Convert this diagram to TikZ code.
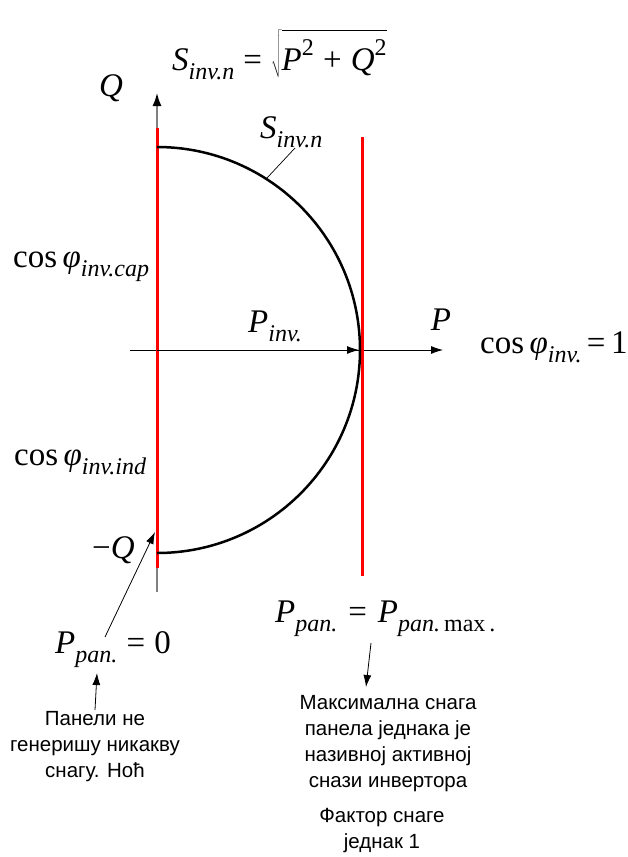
\documentclass[tikz,border=0pt]{standalone}
\usepackage{fontspec}
\setmainfont{Liberation Serif}
\newfontfamily\cyr{Liberation Sans}
\usetikzlibrary{arrows.meta}
\newcommand{\mysub}[1]{\raisebox{-0.28em}{\fontsize{24}{24}\selectfont #1}}
\newcommand{\mysup}[1]{\raisebox{0.45em}{\fontsize{24}{24}\selectfont #1}}
\begin{document}
\begin{tikzpicture}[x=1pt,y=-1pt,
  lbl/.style={inner sep=0pt, font=\fontsize{33}{38}\selectfont},
  note/.style={inner sep=0pt, align=center, font=\cyr\fontsize{20.5}{25.7}\selectfont},
  redline/.style={draw=red, line width=3pt},
  thinarrow/.style={-{Latex[length=12pt,width=8pt]}, line width=0.8pt},
  leader/.style={line width=0.7pt}]
\useasboundingbox (0,0) rectangle (627,857);
% axes
\coordinate (O) at (157,350);
\coordinate (Qtop) at (157,93);
\coordinate (Qbot) at (157,592);
\coordinate (Pstart) at (130,350);
\coordinate (Pend) at (443,350);
\coordinate (Arcright) at (359,350);
\draw[draw=gray, line width=1.5pt, -{Latex[color=black,length=13pt,width=9pt]}] (Qbot) -- (Qtop);
\draw[thinarrow] (Pstart) -- (Pend);
% red lines
\coordinate (L1) at (157,128);
\coordinate (L2) at (157,568);
\coordinate (R1) at (362,137);
\coordinate (R2) at (362,576);
\draw[redline] (L1) -- (L2);
\draw[redline] (R1) -- (R2);
% semicircle
\coordinate (Atop) at (157,147);
\draw[line width=2.5pt] (Atop) arc[start angle=-90, end angle=90, radius=203];
% P_inv vector
\draw[thinarrow] (O) -- (Arcright);
% labels
\node[lbl, anchor=base west] (form) at (172,70) {\textit{S}\mysub{\textit{inv.n}}\;=\;$\sqrt{\rule{0pt}{1.12em}\mbox{\textit{P}\mysup{2}\;+\;\textit{Q}\mysup{2}}}$};
\node[lbl] (Qlbl) at (111,88) {\textit{Q}};
\node[lbl, anchor=base west] (Slbl) at (260,138) {\textit{S}\mysub{\textit{inv.n}}};
\coordinate (Slead) at (295,148);
\coordinate (Sarc) at (267,178);
\draw[leader] (Slead) -- (Sarc);
\node[lbl, anchor=base west] (cap) at (13,267) {cos\,\textit{φ}\mysub{\textit{inv.cap}}};
\node[lbl, anchor=base west] (ind) at (14,465) {cos\,\textit{φ}\mysub{\textit{inv.ind}}};
\node[lbl, anchor=base west] (Pinv) at (248,332) {\textit{P}\mysub{\textit{inv.}}};
\node[lbl] (Plbl) at (441,320) {\textit{P}};
\node[lbl, anchor=base west] (cos1) at (480,353) {cos\,\textit{φ}\mysub{\textit{inv.}}\,=\,1};
\node[lbl, anchor=base west] (mQ) at (92,558) {−\textit{Q}};
\node[lbl, anchor=base west] (Pzero) at (55,653) {\textit{P}\mysub{\textit{pan.}}\;=\;0};
\node[lbl, anchor=base west] (Pmax) at (275,622) {\textit{P}\mysub{\textit{pan.}}\,\,=\,\,\textit{P}\mysub{\textit{pan.}\,max\,.}};
% leader arrows
\coordinate (Pz1) at (105,637);
\coordinate (Pz2) at (155,532);
\draw[thinarrow] (Pz1) -- (Pz2);
\node[note, anchor=base] (night) at (95,777) {Панели не\\генеришу никакву\\снагу. Ноћ};
\coordinate (N1) at (95,710);
\coordinate (N2) at (97,673);
\draw[thinarrow] (N1) -- (N2);
\coordinate (M1) at (371,643);
\coordinate (M2) at (366,687);
\draw[thinarrow] (M1) -- (M2);
\node[note, anchor=base] (maxtext) at (388,787) {Максимална снага\\панела једнака је\\називној активној\\снази инвертора};
\node[note, anchor=base] (factor) at (382,848) {Фактор снаге\\једнак 1};
\end{tikzpicture}
\end{document}
